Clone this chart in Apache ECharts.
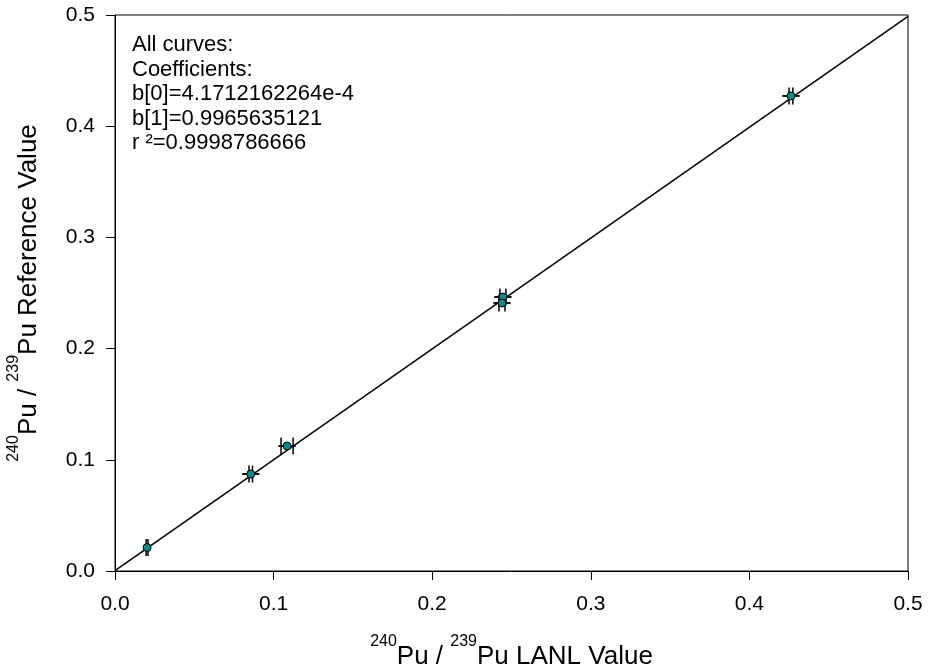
<!DOCTYPE html>
<html>
<head>
<meta charset="utf-8">
<script src="https://cdn.jsdelivr.net/npm/echarts@6/dist/echarts.min.js"></script>
<style>html,body{margin:0;padding:0;background:#fff}#c{width:934px;height:668px}</style>
</head>
<body>
<div id="c"></div>
<script>
// Data (LANL value, reference value, errors)
var xVals = [0.0202, 0.0856, 0.1085, 0.2446, 0.2440, 0.4262];
var yVals = [0.0211, 0.0872, 0.1124, 0.2464, 0.2410, 0.4272];
var xErr  = [0.0006, 0.0011, 0.0038, 0.0019, 0.0019, 0.0012];
var yErr  = [null,   0.0,    0.0,    0.0,    0.0,    0.0];
var b0 = 4.1712162264e-4;
var b1 = 0.9965635121;
var r2 = 0.9998786666;
var axisTicks = [0, 0.1, 0.2, 0.3, 0.4, 0.5];
var annotationLines = ['All curves:', 'Coefficients:', 'b[0]=4.1712162264e-4', 'b[1]=0.9965635121', 'r \u00b2=0.9998786666'];

var FONT = 'Liberation Sans, Arial, sans-serif';
var chart = echarts.init(document.getElementById('c'), null, {renderer: 'canvas'});

var pointData = xVals.map(function (x, i) { return [x, yVals[i], xErr[i], yErr[i]]; });
var fitData = [[axisTicks[0], b0 + b1 * axisTicks[0]], [axisTicks[axisTicks.length - 1], b0 + b1 * axisTicks[axisTicks.length - 1]]];

var CAP = 8.5;
function renderErr(params, api) {
  var x = api.value(0), y = api.value(1), ex = api.value(2), ey = api.value(3);
  var children = [];
  var style = {stroke: '#000', lineWidth: 1.5};
  if (ex !== null && ex !== '-' && !isNaN(ex)) {
    var l = api.coord([x - ex, y]), r = api.coord([x + ex, y]);
    children.push({type: 'line', shape: {x1: l[0], y1: l[1], x2: r[0], y2: r[1]}, style: style});
    children.push({type: 'line', shape: {x1: l[0], y1: l[1] - CAP, x2: l[0], y2: l[1] + CAP}, style: style});
    children.push({type: 'line', shape: {x1: r[0], y1: r[1] - CAP, x2: r[0], y2: r[1] + CAP}, style: style});
  }
  if (ey !== null && ey !== '-' && !isNaN(ey)) {
    var b = api.coord([x, y - ey]), t = api.coord([x, y + ey]);
    children.push({type: 'line', shape: {x1: b[0], y1: b[1], x2: t[0], y2: t[1]}, style: style});
    children.push({type: 'line', shape: {x1: b[0] - CAP, y1: b[1], x2: b[0] + CAP, y2: b[1]}, style: style});
    children.push({type: 'line', shape: {x1: t[0] - CAP, y1: t[1], x2: t[0] + CAP, y2: t[1]}, style: style});
  }
  return {type: 'group', children: children};
}

var richTitle = {
  n: {fontSize: 26, fontFamily: FONT, color: '#000', lineHeight: 36, verticalAlign: 'bottom'},
  s: {fontSize: 16, fontFamily: FONT, color: '#000', lineHeight: 16, verticalAlign: 'top'}
};

var option = {
  backgroundColor: '#fff',
  animation: false,
  grid: {left: 115, right: 26, top: 15, bottom: 97, containLabel: false, outerBoundsMode: 'none',
         show: true, borderColor: '#000', borderWidth: 1, backgroundColor: 'transparent'},
  xAxis: {
    type: 'value', min: 0, max: 0.5, interval: 0.1,
    axisLine: {show: true, onZero: false, lineStyle: {color: '#000', width: 1}},
    axisTick: {show: true, inside: false, length: 9, lineStyle: {color: '#000'}},
    splitLine: {show: false},
    axisLabel: {fontSize: 21, fontFamily: FONT, color: '#000', margin: 23, formatter: function (v) { return v.toFixed(1); }},
    name: '{s|240}{n|Pu / }{s|239}{n|Pu LANL Value}',
    nameLocation: 'middle', nameGap: 63,
    nameTextStyle: {rich: richTitle}
  },
  yAxis: {
    type: 'value', min: 0, max: 0.5, interval: 0.1,
    axisLine: {show: true, onZero: false, lineStyle: {color: '#000', width: 1}},
    axisTick: {show: true, inside: false, length: 9, lineStyle: {color: '#000'}},
    splitLine: {show: false},
    axisLabel: {fontSize: 21, fontFamily: FONT, color: '#000', margin: 20, formatter: function (v) { return v.toFixed(1); }},
    name: '{s|240}{n|Pu / }{s|239}{n|Pu Reference Value}',
    nameLocation: 'middle', nameGap: 73,
    nameTextStyle: {rich: richTitle}
  },
  graphic: [{
    type: 'text', left: 132, top: 33,
    style: {text: annotationLines.join('\n'), fontSize: 22, fontFamily: FONT, fill: '#000', lineHeight: 24.5}
  }],
  series: [
    {type: 'line', data: fitData, symbol: 'none', lineStyle: {color: '#000', width: 1.5}, z: 2},
    {type: 'custom', data: pointData, renderItem: renderErr, z: 3, encode: {x: 0, y: 1}},
    {type: 'scatter', data: pointData.map(function (p) { return [p[0], p[1]]; }), symbol: 'circle', symbolSize: 8,
     itemStyle: {color: '#0a8a8a', borderColor: '#000', borderWidth: 1, opacity: 1}, z: 4}
  ]
};
chart.setOption(option);
</script>
</body>
</html>
